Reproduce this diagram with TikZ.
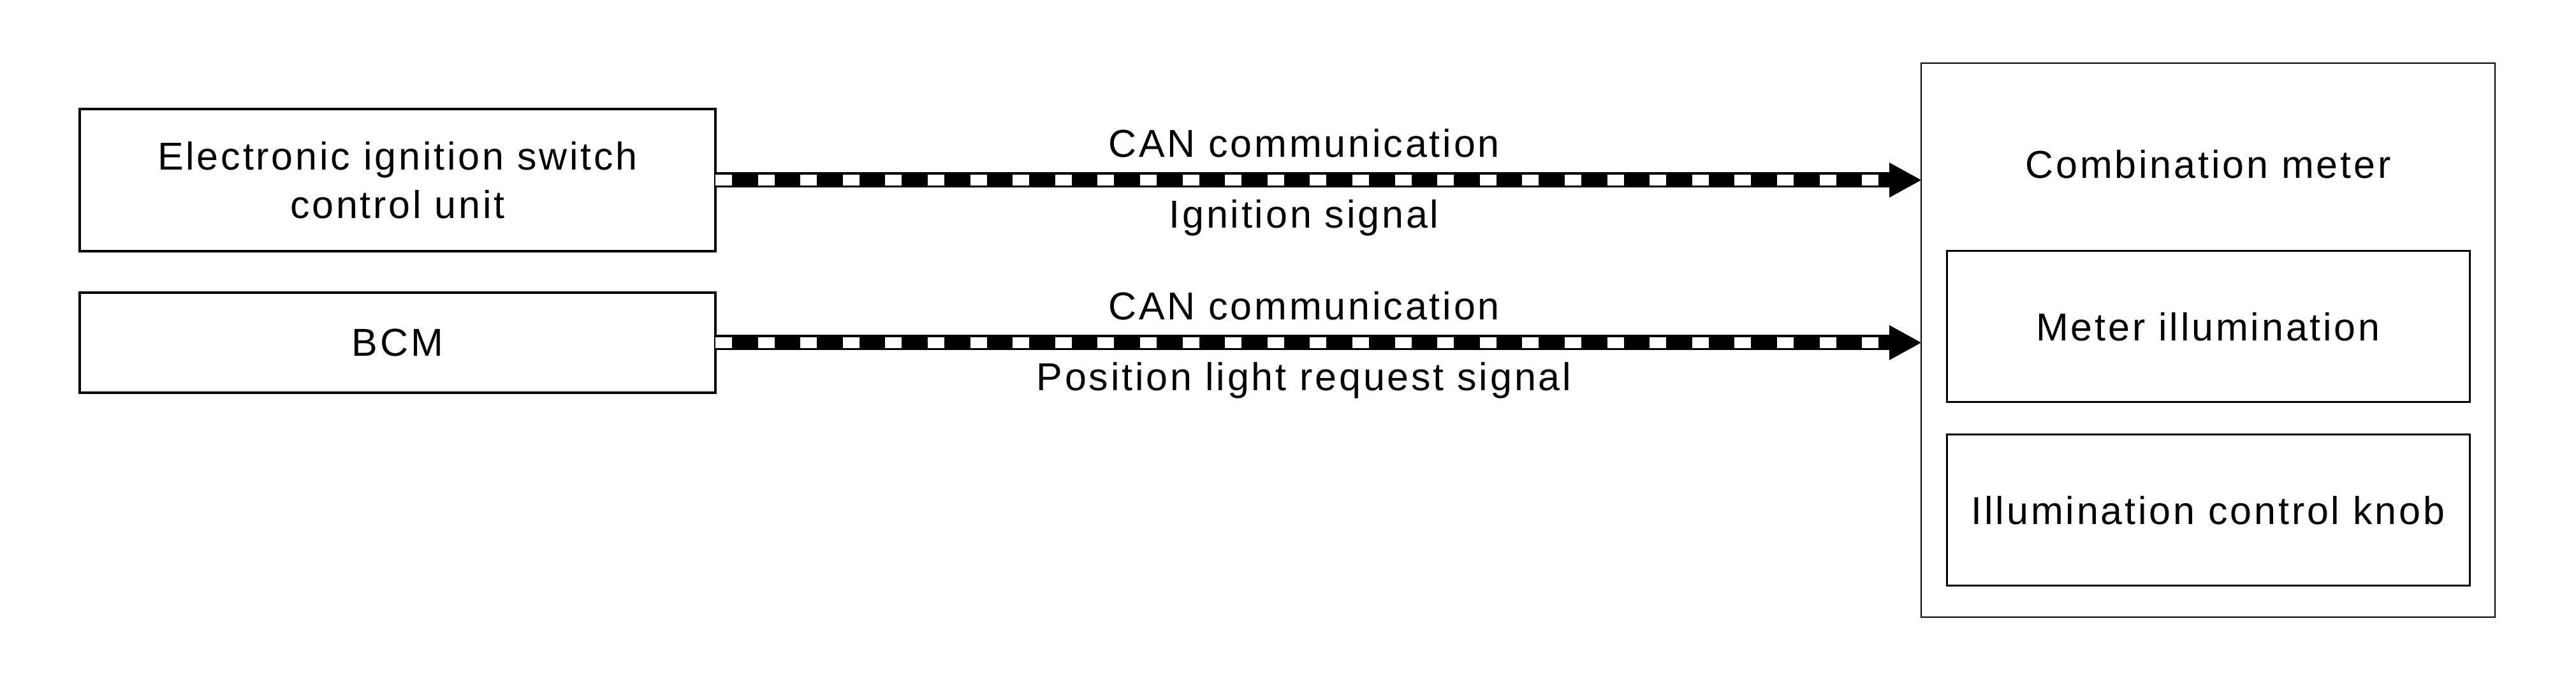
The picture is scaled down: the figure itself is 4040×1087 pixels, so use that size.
\documentclass[tikz,border=0pt]{standalone}
\usepackage{fontspec}
\newfontfamily\dfont{Liberation Sans}[LetterSpace=6.3]
\usetikzlibrary{arrows.meta}
\begin{document}
\begin{tikzpicture}[x=0.25pt,y=-0.25pt,
  txt/.style={font=\dfont\fontsize{15.25pt}{19pt}\selectfont, inner sep=0pt, outer sep=0pt},
  box/.style={txt, draw, line width=0.8pt, align=center},
  inbox/.style={box, line width=0.75pt, minimum width=205pt, minimum height=59.25pt},
  bus/.style={line width=6pt, -{Triangle[length=12.5pt,width=13.75pt,line width=0pt]},
    postaction={draw=white, line width=4.25pt, dash pattern=on 6.5pt off 10.15pt, shorten >=12.5pt, arrows=-}},
  lbl/.style={txt, anchor=base}]
\useasboundingbox (0,0) rectangle (4040,1087);
\node[box, minimum width=249.25pt, minimum height=55.75pt] (ecu) at (623.5,282.5) {Electronic ignition switch\\control unit};
\node[box, minimum width=249.25pt, minimum height=39.25pt] (bcm) at (623.5,537.5) {BCM};
\node[draw, line width=0.7pt, minimum width=225pt, minimum height=217.25pt, inner sep=0pt, outer sep=0pt] (meter) at (3463,533.5) {};
\node[lbl] (metert) at (3463,280) {Combination meter};
\node[inbox] (illum) at (3463,512.5) {Meter illumination};
\node[inbox] (knob) at (3463,800.5) {Illumination control knob};
\draw[bus] (ecu.east) -- (ecu.east -| meter.west);
\draw[bus] (bcm.east) -- (bcm.east -| meter.west);
\node[lbl] (can1) at (2045,247) {CAN communication};
\node[lbl] (ign) at (2045,358) {Ignition signal};
\node[lbl] (can2) at (2045,502) {CAN communication};
\node[lbl] (pos) at (2045,613) {Position light request signal};
\end{tikzpicture}
\end{document}
